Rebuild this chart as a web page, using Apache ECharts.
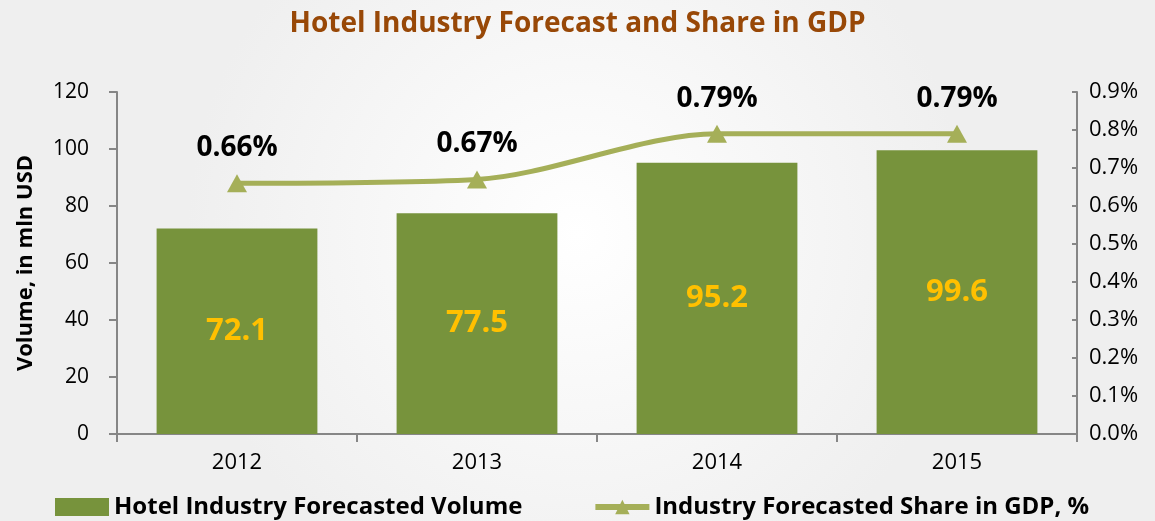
<!DOCTYPE html>
<html>
<head>
<meta charset="utf-8">
<script src="https://cdn.jsdelivr.net/npm/echarts@6/dist/echarts.min.js"></script>
<style>
  html, body { margin: 0; padding: 0; }
  #chart { width: 1155px; height: 521px; }
</style>
</head>
<body>
<div id="chart"></div>
<script>
  // chart data
  var years = ['2012', '2013', '2014', '2015'];
  var volume = [72.1, 77.5, 95.2, 99.6];
  var gdpShare = [0.66, 0.67, 0.79, 0.79];

  var font = '"Open Sans", sans-serif';
  var chart = echarts.init(document.getElementById('chart'));

  var option = {
    backgroundColor: {
      type: 'radial', x: 0.5, y: 0.45, r: 0.75,
      colorStops: [{ offset: 0, color: '#ffffff' }, { offset: 1, color: '#efefef' }]
    },
    textStyle: { fontFamily: font },
    title: {
      text: 'Hotel Industry Forecast and Share in GDP',
      left: 'center',
      top: 5,
      textStyle: { color: '#984807', fontSize: 28, fontWeight: 'bold', fontFamily: font }
    },
    legend: {
      left: 50,
      top: 490,
      itemGap: 70,
      textStyle: { color: '#000', fontSize: 24, fontWeight: 'bold', fontFamily: font },
      data: [
        { name: 'Hotel Industry Forecasted Volume', icon: 'rect' },
        { name: 'Industry Forecasted Share in GDP, %', lineStyle: { width: 6 } }
      ],
      itemWidth: 54,
      itemHeight: 18
    },
    grid: { left: 117, right: 78, top: 92, bottom: 87 },
    xAxis: {
      type: 'category',
      data: years,
      axisLine: { lineStyle: { color: '#868686', width: 2 } },
      axisTick: { show: true, length: 8, lineStyle: { color: '#868686', width: 2 } },
      axisLabel: { color: '#000', fontSize: 22, margin: 18 }
    },
    yAxis: [{
      type: 'value',
      min: 0, max: 120, interval: 20,
      name: 'Volume, in mln USD',
      nameLocation: 'middle',
      nameGap: 80,
      nameTextStyle: { color: '#000', fontSize: 22, fontWeight: 'bold' },
      axisLine: { show: true, lineStyle: { color: '#868686', width: 2 } },
      axisTick: { show: true, length: 8, lineStyle: { color: '#868686', width: 2 } },
      axisLabel: { color: '#000', fontSize: 21, margin: 28 },
      splitLine: { show: false }
    }, {
      type: 'value',
      min: 0, max: 0.9, interval: 0.1,
      position: 'right',
      axisLine: { show: true, lineStyle: { color: '#868686', width: 2 } },
      axisTick: { show: true, inside: true, length: 5, lineStyle: { color: '#868686', width: 2 } },
      axisLabel: {
        color: '#000', fontSize: 22, margin: 12,
        formatter: function (v) { return v.toFixed(1) + '%'; }
      },
      splitLine: { show: false }
    }],
    series: [{
      name: 'Hotel Industry Forecasted Volume',
      type: 'bar',
      data: volume,
      barWidth: '67%',
      itemStyle: { color: '#77933C' },
      label: {
        show: true,
        position: 'inside',
        color: '#FFC000',
        fontSize: 31,
        fontWeight: 'bold',
        fontFamily: font
      }
    }, {
      name: 'Industry Forecasted Share in GDP, %',
      type: 'line',
      yAxisIndex: 1,
      data: gdpShare,
      smooth: 0.3,
      symbol: 'triangle',
      symbolSize: [20, 18],
      lineStyle: { color: '#A5AF58', width: 5 },
      itemStyle: { color: '#A5AF58' },
      label: {
        show: true,
        position: 'top',
        distance: 12,
        color: '#000',
        fontSize: 28,
        fontWeight: 'bold',
        fontFamily: font,
        formatter: function (p) { return p.value.toFixed(2) + '%'; }
      }
    }]
  };

  chart.setOption(option);
</script>
</body>
</html>
